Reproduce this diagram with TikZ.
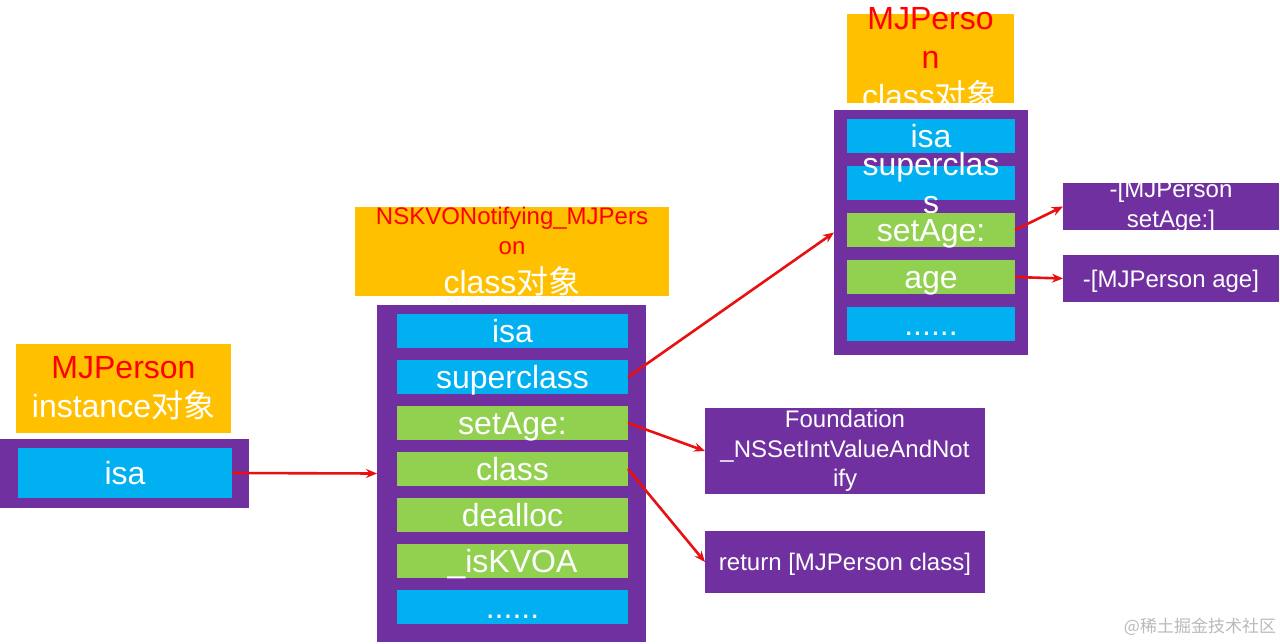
\documentclass[tikz,border=0pt]{standalone}
\usepackage{fontspec}
\setmainfont{Liberation Sans}
\newfontfamily\cjk{Noto Sans CJK SC}
\usepackage{xcolor}
\usetikzlibrary{arrows.meta, positioning}

\definecolor{kvoorange}{RGB}{255,192,0}
\definecolor{kvopurple}{RGB}{112,48,160}
\definecolor{kvoblue}{RGB}{0,176,240}
\definecolor{kvogreen}{RGB}{146,208,80}
\definecolor{kvored}{RGB}{255,0,0}
\definecolor{kvoarrow}{RGB}{232,16,16}

\newcommand{\duixiang}{{\cjk 对象}}
\newcommand{\fixbox}[3]{\parbox[c][#2][c]{#1}{\centering #3}}

\begin{document}
\begin{tikzpicture}[
  x=1pt, y=-1pt,
  node distance=12pt,
  lblbox/.style={fill=kvoorange, inner sep=0pt, outer sep=0pt, text=white,
                 font=\fontsize{32}{39}\selectfont},
  container/.style={fill=kvopurple, inner sep=0pt, outer sep=0pt},
  cellbase/.style={inner sep=0pt, outer sep=0pt, text=white,
                   font=\fontsize{32}{38}\selectfont},
  cell/.style={cellbase, text height=23pt, text depth=0pt},
  bluecell/.style={cell, fill=kvoblue},
  greencell/.style={cell, fill=kvogreen},
  kvocell/.style={minimum width=231pt, minimum height=34pt},
  clscell/.style={minimum width=168pt, minimum height=34pt},
  implbox/.style={fill=kvopurple, inner sep=0pt, outer sep=0pt, text=white,
                  font=\fontsize{24}{29.5}\selectfont},
  implline/.style={implbox, text height=17pt, text depth=0pt},
  arrow/.style={-{Stealth[length=11pt, width=9pt]}, draw=kvoarrow, line width=2.6pt}
]
\useasboundingbox (0,0) rectangle (1280,643);

\node[lblbox] (instlabel) at (123.5,388.5) {%
  \fixbox{215pt}{89pt}{\textcolor{kvored}{MJPerson}\\instance\duixiang}};
\node[container, minimum width=249pt, minimum height=69pt] (instbox) at (124.5,473.5) {};
\node[bluecell, minimum width=214pt, minimum height=50pt] (instisa) at (125,473) {isa};

\node[lblbox] (kvolabel) at (512,251.5) {%
  \fixbox{314pt}{89pt}{{\fontsize{24}{30}\selectfont\color{kvored}NSKVONotifying\_MJPers\\on\par}class\duixiang}};
\node[container, minimum width=269pt, minimum height=337pt] (kvobox) at (511.5,473.5) {};
\node[bluecell, kvocell] (kvoisa) at (512.5,331) {isa};
\node[bluecell, kvocell, below=of kvoisa] (kvosuper) {superclass};
\node[greencell, kvocell, below=of kvosuper] (kvosetage) {setAge:};
\node[greencell, kvocell, below=of kvosetage] (kvoclass) {class};
\node[greencell, kvocell, below=of kvoclass] (kvodealloc) {dealloc};
\node[greencell, kvocell, below=of kvodealloc] (kvoiskvoa) {\_isKVOA};
\node[bluecell, kvocell, below=of kvoiskvoa] (kvomore) {......};

\node[container, minimum width=194pt, minimum height=245pt] (clsbox) at (931,232.5) {};
\node[bluecell, clscell] (clsisa) at (931,136) {isa};
\node[cellbase, fill=kvoblue, clscell, below=13pt of clsisa] (clssuper) {%
  \fixbox{168pt}{34pt}{superclas\\s}};
\node[greencell, clscell, below=13pt of clssuper] (clssetage) {setAge:};
\node[greencell, clscell, below=13pt of clssetage] (clsage) {age};
\node[bluecell, clscell, below=13pt of clsage] (clsmore) {......};
\node[lblbox] (clslabel) at (930.5,58.5) {%
  \fixbox{167pt}{89pt}{\textcolor{kvored}{MJPerso\\n}\\class\duixiang}};

\node[implbox] (impsetage) at (1171,206.5) {\fixbox{216pt}{47pt}{-[MJPerson\\setAge:]}};
\node[implline, minimum width=216pt, minimum height=47pt] (impage) at (1171,278.5) {-[MJPerson age]};
\node[implbox] (found) at (845,451) {%
  \fixbox{280pt}{86pt}{Foundation\\\_NSSetIntValueAndNot\\ify}};
\node[implline, minimum width=280pt, minimum height=62pt] (ret) at (845,562) {return [MJPerson class]};

\node[text=gray!55, font=\cjk\fontsize{17}{20}\selectfont] (mark) at (1200,627) {@稀土掘金技术社区};

\draw[arrow] (instisa.east) -- (kvobox.west);
\draw[arrow] (kvosuper.east) -- (clsbox.west);
\draw[arrow] (kvosetage.east) -- (found.west);
\draw[arrow] (kvoclass.east) -- (ret.west);
\draw[arrow] (clssetage.east) -- (impsetage.west);
\draw[arrow] (clsage.east) -- (impage.west);
\end{tikzpicture}
\end{document}
